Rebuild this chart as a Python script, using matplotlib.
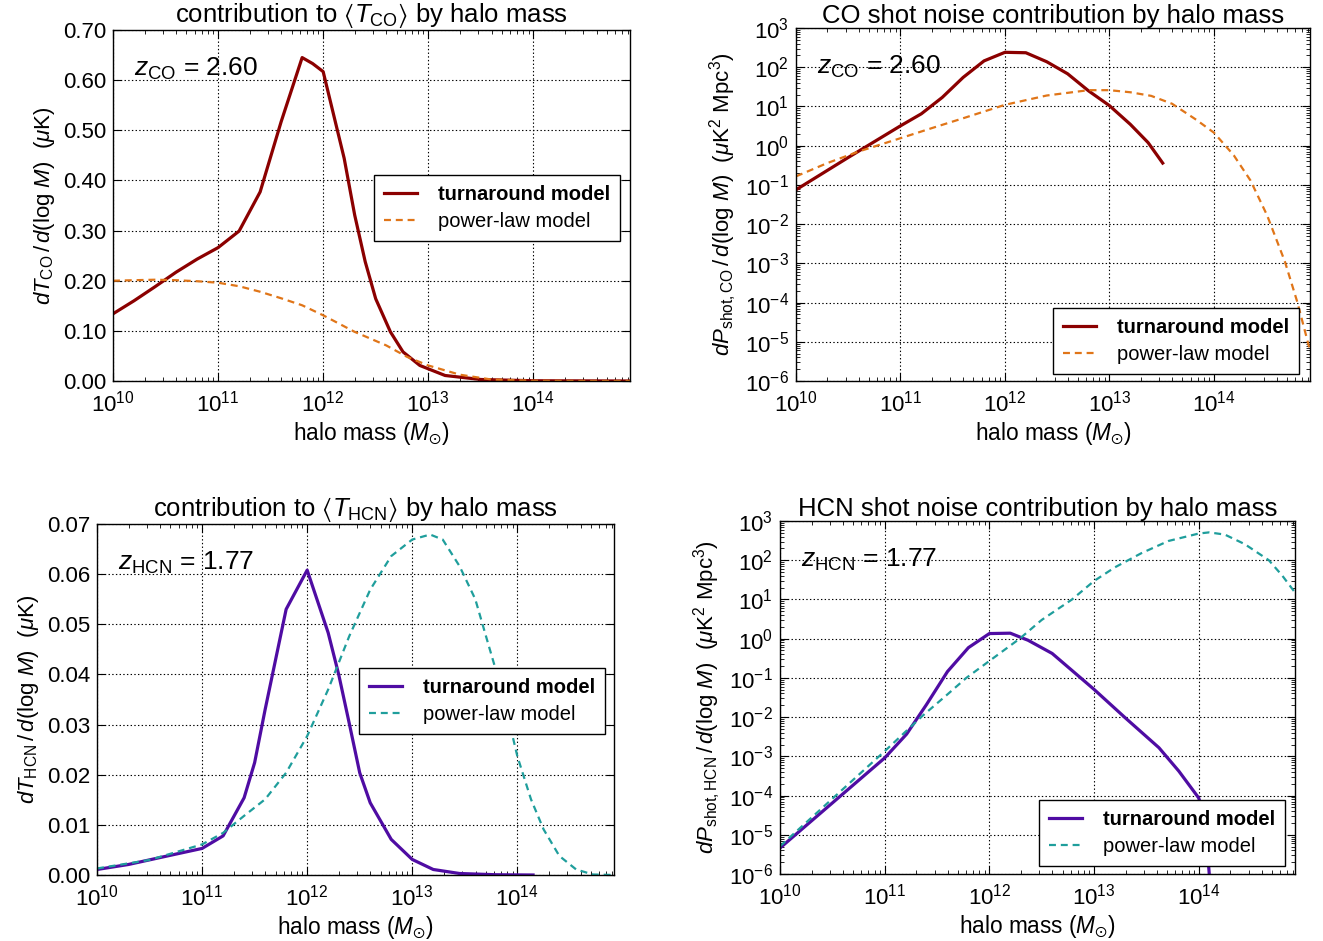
import numpy as np
import matplotlib
matplotlib.use("Agg")
import matplotlib.pyplot as plt
from matplotlib.ticker import LogLocator, FixedLocator, FormatStrFormatter

plt.rcParams.update({
    "font.family": ["Liberation Sans", "DejaVu Sans"],
    "mathtext.fontset": "custom",
    "mathtext.rm": "Liberation Sans",
    "mathtext.it": "Liberation Sans:italic",
    "mathtext.bf": "Liberation Sans:bold",
    "mathtext.sf": "Liberation Sans",
    "mathtext.fallback": "stixsans",
    "xtick.direction": "in",
    "ytick.direction": "in",
    "xtick.top": True,
    "ytick.right": True,
    "xtick.major.size": 6,
    "ytick.major.size": 6,
    "xtick.minor.size": 3,
    "ytick.minor.size": 3,
    "lines.scale_dashes": False,
})

# ---------------- data ----------------
# CO, mean temperature contribution (top-left)
logm_co_t_turn = [10.0, 10.2, 10.4, 10.6, 10.8, 11.0, 11.2, 11.4, 11.6, 11.8, 11.9, 12.0,
                  12.2, 12.3, 12.4, 12.5, 12.64, 12.76, 12.92, 13.16, 13.5, 14.0, 14.92]
co_t_turn = [0.134, 0.160, 0.188, 0.217, 0.243, 0.266, 0.299, 0.377, 0.517, 0.645, 0.633, 0.617,
             0.444, 0.331, 0.238, 0.164, 0.098, 0.058, 0.031, 0.011, 0.003, 0.0005, 0.0]
logm_co_t_pl = [10.0, 10.2, 10.4, 10.6, 10.8, 11.0, 11.2, 11.4, 11.6, 11.8, 12.0, 12.3, 12.6,
                12.8, 13.0, 13.3, 13.6, 14.0, 14.4, 14.92]
co_t_pl = [0.200, 0.201, 0.202, 0.201, 0.199, 0.196, 0.189, 0.178, 0.165, 0.151, 0.131, 0.098,
           0.071, 0.048, 0.031, 0.0126, 0.003, 0.0005, 0.0001, 0.0]

# CO, shot noise contribution (top-right)
logm_co_p_turn = [10.0, 10.5, 11.0, 11.2, 11.4, 11.6, 11.8, 12.0, 12.2, 12.4, 12.6, 12.8, 13.0,
                  13.2, 13.37, 13.51]
co_p_turn = [0.075, 0.5, 3.2, 6.5, 17.0, 55.0, 145.0, 240.0, 234.0, 138.0, 68.0, 25.0, 10.5,
             3.5, 1.2, 0.36]
logm_co_p_pl = [10.0, 10.3, 10.6, 11.0, 11.3, 11.6, 12.0, 12.4, 12.8, 13.0, 13.2, 13.4, 13.6,
                13.83, 14.0, 14.19, 14.35, 14.51, 14.68, 14.8, 14.92]
co_p_pl = [0.165, 0.36, 0.71, 1.55, 2.8, 5.0, 11.0, 19.0, 26.0, 26.0, 23.0, 18.6, 11.7, 4.6,
           2.15, 0.57, 0.13, 0.0166, 0.0011, 1e-4, 6e-6]

# HCN, mean temperature contribution (bottom-left)
logm_hcn_t_turn = [10.0, 10.3, 10.67, 11.0, 11.2, 11.4, 11.5, 11.6, 11.8, 12.0, 12.2, 12.3, 12.4,
                   12.5, 12.6, 12.8, 13.0, 13.2, 13.45, 13.8, 14.15]
hcn_t_turn = [0.0011, 0.0021, 0.0038, 0.0053, 0.0078, 0.0154, 0.0224, 0.033, 0.053, 0.0608,
              0.0483, 0.040, 0.0303, 0.0204, 0.0144, 0.0071, 0.0031, 0.0011, 0.0003, 0.00005, 0.0]
logm_hcn_t_pl = [10.0, 10.5, 11.0, 11.2, 11.4, 11.6, 11.8, 12.0, 12.2, 12.4, 12.6, 12.8, 13.0,
                 13.17, 13.29, 13.45, 13.6, 13.72, 13.85, 14.0, 14.13, 14.25, 14.4, 14.56, 14.72,
                 14.92]
hcn_t_pl = [0.0013, 0.0030, 0.0061, 0.0084, 0.0118, 0.0151, 0.0204, 0.0277, 0.037, 0.0476,
            0.0569, 0.0636, 0.0669, 0.0679, 0.0669, 0.0616, 0.055, 0.0463, 0.037, 0.0237,
            0.0151, 0.0091, 0.0038, 0.0011, 0.0001, 0.0]

# HCN, shot noise contribution (bottom-right)
logm_hcn_p_turn = [10.0, 11.0, 11.21, 11.4, 11.6, 11.8, 12.0, 12.2, 12.37, 12.6, 13.0, 13.3,
                   13.62, 13.81, 14.0, 14.06, 14.13]
hcn_p_turn = [4.6e-6, 9.1e-4, 3.7e-3, 2.1e-2, 0.145, 0.59, 1.35, 1.38, 0.91, 0.42, 0.051,
              0.0095, 0.00166, 4.2e-4, 8.7e-5, 2.5e-5, 1e-7]
logm_hcn_p_pl = [10.0, 11.0, 11.36, 11.6, 11.78, 12.0, 12.29, 12.5, 12.79, 13.0, 13.2, 13.45,
                 13.71, 14.0, 14.1, 14.25, 14.44, 14.67, 14.8, 14.92]
hcn_p_pl = [5.1e-6, 1.35e-3, 1.07e-2, 3.8e-2, 0.1, 0.27, 1.0, 3.0, 10.0, 29.5, 66.0, 150.0,
            309.0, 479.0, 513.0, 450.0, 257.0, 100.0, 40.0, 15.0]

titles = [r"contribution to $\langle T_{\rm CO}\rangle$ by halo mass",
          "CO shot noise contribution by halo mass",
          r"contribution to $\langle T_{\rm HCN}\rangle$ by halo mass",
          "HCN shot noise contribution by halo mass"]
ylabels = [r"$dT_{\rm CO}\,/\,d(\log\,M)$  ($\mu$K)",
           r"$dP_{\rm shot,CO}\,/\,d(\log\,M)$  ($\mu$K$^2$ Mpc$^3$)",
           r"$dT_{\rm HCN}\,/\,d(\log\,M)$  ($\mu$K)",
           r"$dP_{\rm shot,HCN}\,/\,d(\log\,M)$  ($\mu$K$^2$ Mpc$^3$)"]
ztexts = [r"$z_{\rm CO}$ = 2.60", r"$z_{\rm CO}$ = 2.60",
          r"$z_{\rm HCN}$ = 1.77", r"$z_{\rm HCN}$ = 1.77"]
legend_labels = ["turnaround model", "power-law model"]

red = "#8b0000"
orange = "#e07518"
purple = "#4f0ca3"
teal = "#1f9e9c"

W, H = 1323, 941
fig = plt.figure(figsize=(W / 100, H / 100), dpi=100)

def ax_at(l, r, t, b):
    return fig.add_axes([l / W, (H - b) / H, (r - l) / W, (b - t) / H])

axes = [ax_at(113, 630, 30, 381), ax_at(796, 1310, 28, 381),
        ax_at(97, 614, 524, 875), ax_at(780, 1295, 521, 874)]

series = [
    (logm_co_t_turn, co_t_turn, logm_co_t_pl, co_t_pl, red, orange),
    (logm_co_p_turn, co_p_turn, logm_co_p_pl, co_p_pl, red, orange),
    (logm_hcn_t_turn, hcn_t_turn, logm_hcn_t_pl, hcn_t_pl, purple, teal),
    (logm_hcn_p_turn, hcn_p_turn, logm_hcn_p_pl, hcn_p_pl, purple, teal),
]
leg_anchor = [(0.981, 0.587), (0.979, 0.207), (0.983, 0.59), (0.981, 0.21)]

for i, ax in enumerate(axes):
    lt, vt, lp, vp, c1, c2 = series[i]
    ax.plot(10 ** np.array(lt), vt, color=c1, lw=2.3, label=legend_labels[0])
    ax.plot(10 ** np.array(lp), vp, color=c2, lw=1.6, dashes=(5, 3.5), label=legend_labels[1])
    ax.set_xscale("log")
    ax.set_xlim(1e10, 10 ** 14.92)
    ax.xaxis.set_major_locator(LogLocator(base=10, numticks=10))
    ax.xaxis.set_minor_locator(LogLocator(base=10, subs=np.arange(2, 10), numticks=20))
    if i % 2 == 0:
        top = 0.70 if i == 0 else 0.07
        ax.set_ylim(0, top)
        ax.yaxis.set_major_locator(FixedLocator(np.linspace(0, top, 8)))
        ax.yaxis.set_major_formatter(FormatStrFormatter("%.2f"))
    else:
        ax.set_yscale("log")
        ax.set_ylim(1e-6, 1e3)
        ax.yaxis.set_major_locator(LogLocator(base=10, numticks=20))
        ax.yaxis.set_minor_locator(LogLocator(base=10, subs=np.arange(2, 10), numticks=30))
    ax.grid(True, which="major", color="k", linestyle=":", linewidth=0.8)
    ax.tick_params(which="both", labelsize=16, pad=5)
    ax.tick_params(axis="x", pad=7)
    ax.set_title(titles[i], fontsize=18.5, pad=3)
    ax.set_xlabel(r"halo mass ($M_{\odot}$)", fontsize=16.3, labelpad=3)
    ax.set_ylabel(ylabels[i], fontsize=16)
    ax.text(0.04, 0.89, ztexts[i], transform=ax.transAxes, fontsize=19, va="center")
    leg = ax.legend(loc="upper right", bbox_to_anchor=leg_anchor[i], fontsize=14.5,
                    fancybox=False, framealpha=1, edgecolor="k", handlelength=1.65,
                    handletextpad=1.05, borderpad=0.5, labelspacing=0.4, borderaxespad=0)
    leg.get_frame().set_linewidth(1.0)
    leg.get_texts()[0].set_fontweight("bold")
    for sp in ax.spines.values():
        sp.set_linewidth(1.0)

fig.savefig("out.png", dpi=100)
